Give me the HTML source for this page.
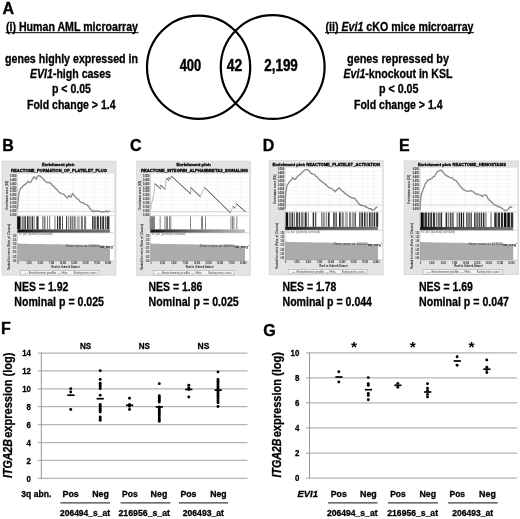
<!DOCTYPE html>
<html><head><meta charset="utf-8"><title>Figure</title>
<style>html,body{margin:0;padding:0;background:#fff;}svg{display:block;}text{font-family:"Liberation Sans", sans-serif;}</style></head><body>
<svg width="520" height="519" viewBox="0 0 520 519">
<rect width="520" height="519" fill="#fff"/>
<defs><filter id="idf" x="0" y="0" width="520" height="519" filterUnits="userSpaceOnUse"><feGaussianBlur stdDeviation="0.32"/></filter></defs>
<g filter="url(#idf)">
<text x="2.6" y="13.5" font-size="16" font-weight="bold" stroke="#000" stroke-width="0.35">A</text>
<text x="2.2" y="151" font-size="16" font-weight="bold" stroke="#000" stroke-width="0.35">B</text>
<text x="130" y="151" font-size="16" font-weight="bold" stroke="#000" stroke-width="0.35">C</text>
<text x="262.8" y="151" font-size="16" font-weight="bold" stroke="#000" stroke-width="0.35">D</text>
<text x="399.0" y="151" font-size="16" font-weight="bold" stroke="#000" stroke-width="0.35">E</text>
<text x="1.1" y="334.1" font-size="16" font-weight="bold" stroke="#000" stroke-width="0.35">F</text>
<text x="263.3" y="336.4" font-size="16" font-weight="bold" stroke="#000" stroke-width="0.35">G</text>
<text x="6.00" y="30.50" font-size="12" font-weight="bold" font-style="normal" fill="#000" stroke="#000" stroke-width="0.3" textLength="132.00" lengthAdjust="spacingAndGlyphs">(i) Human AML microarray</text>
<line x1="5.5" x2="138.5" y1="32.7" y2="32.7" stroke="#000" stroke-width="1"/>
<text x="5.00" y="62.60" font-size="12" font-weight="bold" font-style="normal" fill="#000" stroke="#000" stroke-width="0.3" textLength="133.00" lengthAdjust="spacingAndGlyphs">genes highly expressed in</text>
<text x="30.00" y="78.00" font-size="12" font-weight="bold" font-style="normal" fill="#000" stroke="#000" stroke-width="0.3" textLength="81.00" lengthAdjust="spacingAndGlyphs"><tspan font-style="italic">EVI1</tspan>-high cases</text>
<text x="52.00" y="93.30" font-size="12" font-weight="bold" font-style="normal" fill="#000" stroke="#000" stroke-width="0.3" textLength="39.00" lengthAdjust="spacingAndGlyphs">p &lt; 0.05</text>
<text x="27.00" y="108.80" font-size="12" font-weight="bold" font-style="normal" fill="#000" stroke="#000" stroke-width="0.3" textLength="88.50" lengthAdjust="spacingAndGlyphs">Fold change &gt; 1.4</text>
<circle cx="198.6" cy="67.2" r="51.6" fill="none" stroke="#000" stroke-width="2.2"/>
<circle cx="272.7" cy="67" r="51.9" fill="none" stroke="#000" stroke-width="2.2"/>
<text x="179.70" y="71.20" font-size="16" font-weight="bold" font-style="normal" fill="#000" stroke="#000" stroke-width="0.45" textLength="21.50" lengthAdjust="spacingAndGlyphs">400</text>
<text x="226.80" y="71.20" font-size="16" font-weight="bold" font-style="normal" fill="#000" stroke="#000" stroke-width="0.45" textLength="15.40" lengthAdjust="spacingAndGlyphs">42</text>
<text x="264.30" y="71.20" font-size="16" font-weight="bold" font-style="normal" fill="#000" stroke="#000" stroke-width="0.45" textLength="33.50" lengthAdjust="spacingAndGlyphs">2,199</text>
<text x="325.50" y="30.50" font-size="12" font-weight="bold" font-style="normal" fill="#000" stroke="#000" stroke-width="0.3" textLength="148.00" lengthAdjust="spacingAndGlyphs">(ii) <tspan font-style="italic">Evi1</tspan> cKO mice microarray</text>
<line x1="325" x2="474" y1="32.7" y2="32.7" stroke="#000" stroke-width="1"/>
<text x="347.00" y="62.60" font-size="12" font-weight="bold" font-style="normal" fill="#000" stroke="#000" stroke-width="0.3" textLength="102.00" lengthAdjust="spacingAndGlyphs">genes repressed by</text>
<text x="343.50" y="78.00" font-size="12" font-weight="bold" font-style="normal" fill="#000" stroke="#000" stroke-width="0.3" textLength="109.00" lengthAdjust="spacingAndGlyphs"><tspan font-style="italic">Evi1</tspan>-knockout in KSL</text>
<text x="379.00" y="93.30" font-size="12" font-weight="bold" font-style="normal" fill="#000" stroke="#000" stroke-width="0.3" textLength="39.50" lengthAdjust="spacingAndGlyphs">p &lt; 0.05</text>
<text x="354.00" y="108.80" font-size="12" font-weight="bold" font-style="normal" fill="#000" stroke="#000" stroke-width="0.3" textLength="88.50" lengthAdjust="spacingAndGlyphs">Fold change &gt; 1.4</text>
<defs><linearGradient id="gb" x1="0" x2="1" y1="0" y2="0"><stop offset="0" stop-color="#111"/><stop offset="0.35" stop-color="#4a4a4a"/><stop offset="1" stop-color="#757575"/></linearGradient><linearGradient id="gc" x1="0" x2="1" y1="0" y2="0"><stop offset="0" stop-color="#111"/><stop offset="0.4" stop-color="#666"/><stop offset="1" stop-color="#bdbdbd"/></linearGradient><filter id="bl" x="-5%" y="-5%" width="110%" height="110%"><feGaussianBlur stdDeviation="0.4"/></filter></defs>
<g filter="url(#bl)">
<rect x="2.00" y="161.10" width="114.00" height="114.00" fill="#e3e3e3" stroke="#cdcdcd" stroke-width="0.6"/>
<rect x="17.3" y="173.80" width="96.60" height="87.20" fill="#fff"/>
<path d="M17.3 177.64H113.9 M17.3 181.48H113.9 M17.3 185.32H113.9 M17.3 189.16H113.9 M17.3 193.00H113.9 M17.3 196.84H113.9 M17.3 200.68H113.9 M17.3 204.52H113.9 M17.3 208.36H113.9 M17.3 212.20H113.9 M28.32 173.80V215.10 M39.35 173.80V215.10 M50.37 173.80V215.10 M61.40 173.80V215.10 M72.42 173.80V215.10 M83.44 173.80V215.10 M94.47 173.80V215.10 M105.49 173.80V215.10" stroke="#ececec" stroke-width="0.4" fill="none"/>
<path d="M17.3 215.70H113.9" stroke="#cfcfcf" stroke-width="0.8"/>
<path d="M17.3 211.40H113.9" stroke="#b5b5b5" stroke-width="0.5"/>
<text x="42" y="166.40" font-size="4.4" font-weight="bold" stroke="#000" stroke-width="0.3" textLength="32.50" lengthAdjust="spacingAndGlyphs">Enrichment plot:</text>
<text x="11" y="172.40" font-size="4.4" font-weight="bold" stroke="#000" stroke-width="0.3" textLength="96.00" lengthAdjust="spacingAndGlyphs">REACTOME_FORMATION_OF_PLATELET_PLUG</text>
<path d="M17.40 209.50 L17.48 208.60 L17.56 207.70 L17.64 206.80 L17.72 205.90 L17.80 205.00 L17.87 204.00 L17.94 203.00 L18.01 202.00 L18.09 201.00 L18.16 200.00 L18.23 199.00 L18.30 198.00 L18.45 197.00 L18.60 196.00 L18.75 195.00 L18.90 194.00 L19.05 193.00 L19.20 192.00 L19.53 191.00 L19.87 190.00 L20.20 189.00 L20.80 187.92 L21.40 187.81 L22.20 186.99 L23.00 185.78 L23.95 185.20 L24.90 184.35 L26.30 183.64 L27.00 182.86 L27.70 181.33 L29.00 182.18 L30.60 182.50 L31.17 181.24 L31.73 180.64 L32.30 179.05 L32.90 178.65 L33.50 178.10 L34.10 176.86 L35.30 178.00 L36.40 178.96 L37.00 177.18 L37.60 176.17 L38.70 175.34 L39.60 176.00 L40.50 176.19 L41.35 177.04 L42.20 178.23 L43.05 178.73 L43.90 179.75 L44.75 180.64 L45.60 181.40 L46.50 181.91 L47.40 182.66 L48.50 182.95 L49.70 182.46 L50.47 183.08 L51.23 183.60 L52.00 185.10 L52.77 185.55 L53.53 186.33 L54.30 186.62 L54.97 188.07 L55.65 188.67 L56.33 188.73 L57.00 189.65 L57.75 190.72 L58.50 191.44 L59.25 192.37 L60.00 192.63 L61.15 193.55 L62.30 193.95 L63.45 194.22 L64.60 195.08 L65.30 196.04 L66.00 196.71 L66.75 197.15 L67.50 197.98 L68.40 196.18 L69.20 195.37 L70.10 196.77 L71.00 197.22 L71.40 195.86 L71.80 195.04 L72.15 194.33 L72.50 193.46 L73.10 193.99 L73.70 194.85 L74.30 195.71 L74.93 196.68 L75.57 197.19 L76.20 197.80 L77.07 198.66 L77.93 199.01 L78.80 199.79 L79.67 201.15 L80.53 202.17 L81.40 202.58 L82.37 202.77 L83.33 202.94 L84.30 203.60 L85.27 204.43 L86.23 204.64 L87.20 204.84 L87.85 205.92 L88.50 206.16 L89.15 207.21 L89.80 208.41 L90.45 208.92 L91.10 209.66 L91.75 210.34 L92.40 211.44 L93.37 211.71 L94.33 210.76 L95.30 211.36 L96.27 211.22 L97.23 211.11 L98.20 210.82 L99.10 211.18 L100.00 211.22 L100.80 211.71 L101.60 212.03 L102.80 211.60 L104.00 212.23 L105.10 211.61 L106.20 210.93 L107.50 211.90 L108.60 211.59 L109.70 210.47" fill="none" stroke="#8a8a8a" stroke-width="1.35" stroke-linejoin="round"/>
<rect x="16.98" y="216.30" width="3.60" height="13.10" fill="#0a0a0a"/>
<rect x="21.64" y="216.30" width="2.12" height="13.10" fill="#7c7c7c"/>
<rect x="24.39" y="216.30" width="1.48" height="13.10" fill="#333333"/>
<rect x="26.92" y="216.30" width="1.69" height="13.10" fill="#333333"/>
<rect x="29.46" y="216.30" width="1.06" height="13.10" fill="#333333"/>
<rect x="31.58" y="216.30" width="1.69" height="13.10" fill="#333333"/>
<rect x="34.33" y="216.30" width="0.63" height="13.10" fill="#7c7c7c"/>
<rect x="36.44" y="216.30" width="2.12" height="13.10" fill="#333333"/>
<rect x="42.16" y="216.30" width="1.27" height="13.10" fill="#7c7c7c"/>
<rect x="43.85" y="216.30" width="1.69" height="13.10" fill="#7c7c7c"/>
<rect x="47.02" y="216.30" width="1.06" height="13.10" fill="#7c7c7c"/>
<rect x="49.14" y="216.30" width="1.06" height="13.10" fill="#7c7c7c"/>
<rect x="54.43" y="216.30" width="1.06" height="13.10" fill="#7c7c7c"/>
<rect x="56.96" y="216.30" width="1.27" height="13.10" fill="#333333"/>
<rect x="59.08" y="216.30" width="1.69" height="13.10" fill="#333333"/>
<rect x="62.04" y="216.30" width="0.85" height="13.10" fill="#333333"/>
<rect x="66.06" y="216.30" width="1.06" height="13.10" fill="#333333"/>
<rect x="68.18" y="216.30" width="1.06" height="13.10" fill="#7c7c7c"/>
<rect x="70.29" y="216.30" width="1.06" height="13.10" fill="#333333"/>
<rect x="71.98" y="216.30" width="0.63" height="13.10" fill="#333333"/>
<rect x="73.47" y="216.30" width="2.12" height="13.10" fill="#7c7c7c"/>
<rect x="76.64" y="216.30" width="3.17" height="13.10" fill="#b2b2b2"/>
<rect x="80.87" y="216.30" width="2.12" height="13.10" fill="#7c7c7c"/>
<rect x="84.04" y="216.30" width="2.12" height="13.10" fill="#7c7c7c"/>
<rect x="92.08" y="216.30" width="1.48" height="13.10" fill="#333333"/>
<rect x="94.20" y="216.30" width="1.48" height="13.10" fill="#333333"/>
<rect x="96.74" y="216.30" width="2.12" height="13.10" fill="#333333"/>
<rect x="99.91" y="216.30" width="1.48" height="13.10" fill="#333333"/>
<rect x="102.24" y="216.30" width="1.90" height="13.10" fill="#333333"/>
<rect x="105.20" y="216.30" width="1.06" height="13.10" fill="#333333"/>
<rect x="106.89" y="216.30" width="2.54" height="13.10" fill="#333333"/>
<rect x="17.3" y="229.40" width="92.60" height="3.40" fill="url(#gb)"/>
<path d="M17.3 232.80H113.9" stroke="#aaa" stroke-width="0.5"/>
<text x="18.3" y="235.40" font-size="2.6" fill="#555" textLength="34" lengthAdjust="spacingAndGlyphs">'na_pos' (positively correlated)</text>
<path d="M17.3 261.00V243.20C19.3 243.70 25.3 243.90 63.60 244.40L96.01 245.10L109.90 246.00V261.00Z" fill="#ababab"/>
<text x="65.45" y="246.60" font-size="2.6" fill="#333" textLength="33.34" lengthAdjust="spacingAndGlyphs">Zero cross at 16920</text>
<text x="98.79" y="247.60" font-size="2.6" fill="#222" font-weight="bold" textLength="14.82" lengthAdjust="spacingAndGlyphs">'na_neg'</text>
<path d="M17.3 173.80V261.00H113.9" stroke="#9a9a9a" stroke-width="0.4" fill="none"/>
<text x="10.10" y="177.10" font-size="2.9" fill="#111" font-weight="bold" textLength="6.2" lengthAdjust="spacingAndGlyphs">0.500</text>
<text x="10.10" y="180.94" font-size="2.9" fill="#111" font-weight="bold" textLength="6.2" lengthAdjust="spacingAndGlyphs">0.450</text>
<text x="10.10" y="184.78" font-size="2.9" fill="#111" font-weight="bold" textLength="6.2" lengthAdjust="spacingAndGlyphs">0.400</text>
<text x="10.10" y="188.62" font-size="2.9" fill="#111" font-weight="bold" textLength="6.2" lengthAdjust="spacingAndGlyphs">0.350</text>
<text x="10.10" y="192.46" font-size="2.9" fill="#111" font-weight="bold" textLength="6.2" lengthAdjust="spacingAndGlyphs">0.300</text>
<text x="10.10" y="196.30" font-size="2.9" fill="#111" font-weight="bold" textLength="6.2" lengthAdjust="spacingAndGlyphs">0.250</text>
<text x="10.10" y="200.14" font-size="2.9" fill="#111" font-weight="bold" textLength="6.2" lengthAdjust="spacingAndGlyphs">0.200</text>
<text x="10.10" y="203.98" font-size="2.9" fill="#111" font-weight="bold" textLength="6.2" lengthAdjust="spacingAndGlyphs">0.150</text>
<text x="10.10" y="207.82" font-size="2.9" fill="#111" font-weight="bold" textLength="6.2" lengthAdjust="spacingAndGlyphs">0.100</text>
<text x="10.10" y="211.66" font-size="2.9" fill="#111" font-weight="bold" textLength="6.2" lengthAdjust="spacingAndGlyphs">0.050</text>
<text x="10.10" y="215.50" font-size="2.9" fill="#111" font-weight="bold" textLength="6.2" lengthAdjust="spacingAndGlyphs">0.000</text>
<text x="12.70" y="236.50" font-size="2.9" fill="#1a1a1a" font-weight="bold" textLength="3.6" lengthAdjust="spacingAndGlyphs">1.50</text>
<text x="12.70" y="240.72" font-size="2.9" fill="#1a1a1a" font-weight="bold" textLength="3.6" lengthAdjust="spacingAndGlyphs">1.25</text>
<text x="12.70" y="244.94" font-size="2.9" fill="#1a1a1a" font-weight="bold" textLength="3.6" lengthAdjust="spacingAndGlyphs">1.00</text>
<text x="12.70" y="249.16" font-size="2.9" fill="#1a1a1a" font-weight="bold" textLength="3.6" lengthAdjust="spacingAndGlyphs">0.75</text>
<text x="12.70" y="253.38" font-size="2.9" fill="#1a1a1a" font-weight="bold" textLength="3.6" lengthAdjust="spacingAndGlyphs">0.50</text>
<text x="12.70" y="257.60" font-size="2.9" fill="#1a1a1a" font-weight="bold" textLength="3.6" lengthAdjust="spacingAndGlyphs">0.25</text>
<text x="12.70" y="261.82" font-size="2.9" fill="#1a1a1a" font-weight="bold" textLength="3.6" lengthAdjust="spacingAndGlyphs">0.00</text>
<text transform="translate(7.70,209.80) rotate(-90)" font-size="2.9" fill="#1a1a1a" font-weight="bold" textLength="29" lengthAdjust="spacingAndGlyphs">Enrichment score (ES)</text>
<text transform="translate(10.30,270.00) rotate(-90)" font-size="2.9" fill="#1a1a1a" font-weight="bold" textLength="46" lengthAdjust="spacingAndGlyphs">Ranked list metric (Ratio_of_Classes)</text>
<text x="17.20" y="264.40" font-size="2.9" fill="#1a1a1a" font-weight="bold" textLength="1.2" lengthAdjust="spacingAndGlyphs">0</text>
<text x="26.49" y="264.40" font-size="2.9" fill="#1a1a1a" font-weight="bold" textLength="5.2" lengthAdjust="spacingAndGlyphs">2,500</text>
<text x="37.79" y="264.40" font-size="2.9" fill="#1a1a1a" font-weight="bold" textLength="5.2" lengthAdjust="spacingAndGlyphs">5,000</text>
<text x="49.08" y="264.40" font-size="2.9" fill="#1a1a1a" font-weight="bold" textLength="5.2" lengthAdjust="spacingAndGlyphs">7,500</text>
<text x="59.87" y="264.40" font-size="2.9" fill="#1a1a1a" font-weight="bold" textLength="6.2" lengthAdjust="spacingAndGlyphs">10,000</text>
<text x="71.16" y="264.40" font-size="2.9" fill="#1a1a1a" font-weight="bold" textLength="6.2" lengthAdjust="spacingAndGlyphs">12,500</text>
<text x="82.46" y="264.40" font-size="2.9" fill="#1a1a1a" font-weight="bold" textLength="6.2" lengthAdjust="spacingAndGlyphs">15,000</text>
<text x="93.75" y="264.40" font-size="2.9" fill="#1a1a1a" font-weight="bold" textLength="6.2" lengthAdjust="spacingAndGlyphs">17,500</text>
<text x="105.04" y="264.40" font-size="2.9" fill="#1a1a1a" font-weight="bold" textLength="6.2" lengthAdjust="spacingAndGlyphs">20,000</text>
<text x="51.60" y="268.00" font-size="2.9" fill="#1a1a1a" font-weight="bold" textLength="28" lengthAdjust="spacingAndGlyphs">Rank in Ordered Dataset</text>
<rect x="20.30" y="270.60" width="78.60" height="4.4" fill="#f4f4f4" stroke="#8c8c8c" stroke-width="0.4"/>
<text x="24.30" y="273.70" font-size="2.6" fill="#444" textLength="43.23" lengthAdjust="spacingAndGlyphs">— Enrichment profile — Hits</text>
<text x="73.75" y="273.70" font-size="2.6" fill="#444" textLength="22.79" lengthAdjust="spacingAndGlyphs">Ranking metric scores</text>
</g>
<g filter="url(#bl)">
<rect x="136.70" y="161.10" width="113.70" height="114.40" fill="#e3e3e3" stroke="#cdcdcd" stroke-width="0.6"/>
<rect x="150.3" y="173.80" width="98.70" height="87.20" fill="#fff"/>
<path d="M150.3 177.64H249.0 M150.3 181.48H249.0 M150.3 185.32H249.0 M150.3 189.16H249.0 M150.3 193.00H249.0 M150.3 196.84H249.0 M150.3 200.68H249.0 M150.3 204.52H249.0 M150.3 208.36H249.0 M150.3 212.20H249.0 M161.57 173.80V215.10 M172.85 173.80V215.10 M184.12 173.80V215.10 M195.40 173.80V215.10 M206.67 173.80V215.10 M217.94 173.80V215.10 M229.22 173.80V215.10 M240.49 173.80V215.10" stroke="#ececec" stroke-width="0.4" fill="none"/>
<path d="M150.3 215.70H249.0" stroke="#cfcfcf" stroke-width="0.8"/>
<path d="M150.3 211.60H249.0" stroke="#b5b5b5" stroke-width="0.5"/>
<text x="176.4" y="166.40" font-size="4.4" font-weight="bold" stroke="#000" stroke-width="0.3" textLength="34.60" lengthAdjust="spacingAndGlyphs">Enrichment plot:</text>
<text x="141" y="172.40" font-size="4.4" font-weight="bold" stroke="#000" stroke-width="0.3" textLength="107.00" lengthAdjust="spacingAndGlyphs">REACTOME_INTEGRIN_ALPHAIIBBETA3_SIGNALING</text>
<path d="M150.60 209.50 L150.90 207.50 L151.30 204.40 L152.20 201.00 L153.10 198.10 L153.80 194.00 L154.40 190.00 L155.00 183.80 L160.60 188.80 L160.70 185.00 L165.00 189.40 L165.60 184.00 L166.50 178.20 L168.50 180.50 L168.70 177.20 L170.50 179.20 L171.20 176.00 L190.60 193.80 L190.70 187.50 L200.20 196.60 L204.70 187.60 L230.30 212.70 L233.30 206.40 L234.80 208.10 L236.50 203.90 L245.30 211.60" fill="none" stroke="#9a9a9a" stroke-width="0.7" stroke-linejoin="round"/>
<path d="M155.00 183.80L160.60 188.80 M160.70 185.00L165.00 189.40 M166.50 178.20L168.50 180.50 M168.70 177.20L170.50 179.20 M171.20 176.00L190.60 193.80 M190.70 187.50L200.20 196.60 M204.70 187.60L230.30 212.70 M233.30 206.40L234.80 208.10 M236.50 203.90L245.30 211.60" fill="none" stroke="#484848" stroke-width="0.9" stroke-linecap="round"/>
<rect x="149.85" y="216.30" width="0.60" height="13.10" fill="#333"/>
<rect x="150.70" y="216.30" width="0.60" height="13.10" fill="#333"/>
<rect x="151.55" y="216.30" width="0.60" height="13.10" fill="#333"/>
<rect x="152.39" y="216.30" width="0.60" height="13.10" fill="#333"/>
<rect x="153.24" y="216.30" width="0.60" height="13.10" fill="#333"/>
<rect x="154.09" y="216.30" width="0.60" height="13.10" fill="#333"/>
<rect x="159.80" y="216.30" width="0.60" height="13.10" fill="#333"/>
<rect x="164.66" y="216.30" width="0.60" height="13.10" fill="#333"/>
<rect x="165.93" y="216.30" width="0.60" height="13.10" fill="#333"/>
<rect x="167.20" y="216.30" width="0.60" height="13.10" fill="#333"/>
<rect x="169.32" y="216.30" width="0.60" height="13.10" fill="#333"/>
<rect x="170.59" y="216.30" width="0.60" height="13.10" fill="#333"/>
<rect x="190.05" y="216.30" width="0.60" height="13.10" fill="#333"/>
<rect x="201.05" y="216.30" width="0.60" height="13.10" fill="#333"/>
<rect x="202.32" y="216.30" width="0.60" height="13.10" fill="#333"/>
<rect x="205.28" y="216.30" width="0.60" height="13.10" fill="#333"/>
<rect x="230.67" y="216.30" width="0.60" height="13.10" fill="#333"/>
<rect x="232.36" y="216.30" width="0.60" height="13.10" fill="#333"/>
<rect x="233.63" y="216.30" width="0.60" height="13.10" fill="#333"/>
<rect x="236.59" y="216.30" width="0.60" height="13.10" fill="#333"/>
<rect x="150.3" y="229.40" width="94.70" height="3.40" fill="url(#gc)"/>
<path d="M150.3 232.80H249.0" stroke="#aaa" stroke-width="0.5"/>
<text x="151.3" y="235.40" font-size="2.6" fill="#555" textLength="34" lengthAdjust="spacingAndGlyphs">'na_pos' (positively correlated)</text>
<path d="M150.3 261.00V243.20C152.3 243.70 158.3 243.90 197.65 244.40L230.80 245.10L245.00 246.00V261.00Z" fill="#ababab"/>
<text x="199.54" y="246.60" font-size="2.6" fill="#333" textLength="34.09" lengthAdjust="spacingAndGlyphs">Zero cross at 16920</text>
<text x="233.64" y="247.60" font-size="2.6" fill="#222" font-weight="bold" textLength="15.15" lengthAdjust="spacingAndGlyphs">'na_neg'</text>
<path d="M150.3 173.80V261.00H249.0" stroke="#9a9a9a" stroke-width="0.4" fill="none"/>
<text x="143.10" y="177.10" font-size="2.9" fill="#111" font-weight="bold" textLength="6.2" lengthAdjust="spacingAndGlyphs">0.500</text>
<text x="143.10" y="180.94" font-size="2.9" fill="#111" font-weight="bold" textLength="6.2" lengthAdjust="spacingAndGlyphs">0.450</text>
<text x="143.10" y="184.78" font-size="2.9" fill="#111" font-weight="bold" textLength="6.2" lengthAdjust="spacingAndGlyphs">0.400</text>
<text x="143.10" y="188.62" font-size="2.9" fill="#111" font-weight="bold" textLength="6.2" lengthAdjust="spacingAndGlyphs">0.350</text>
<text x="143.10" y="192.46" font-size="2.9" fill="#111" font-weight="bold" textLength="6.2" lengthAdjust="spacingAndGlyphs">0.300</text>
<text x="143.10" y="196.30" font-size="2.9" fill="#111" font-weight="bold" textLength="6.2" lengthAdjust="spacingAndGlyphs">0.250</text>
<text x="143.10" y="200.14" font-size="2.9" fill="#111" font-weight="bold" textLength="6.2" lengthAdjust="spacingAndGlyphs">0.200</text>
<text x="143.10" y="203.98" font-size="2.9" fill="#111" font-weight="bold" textLength="6.2" lengthAdjust="spacingAndGlyphs">0.150</text>
<text x="143.10" y="207.82" font-size="2.9" fill="#111" font-weight="bold" textLength="6.2" lengthAdjust="spacingAndGlyphs">0.100</text>
<text x="143.10" y="211.66" font-size="2.9" fill="#111" font-weight="bold" textLength="6.2" lengthAdjust="spacingAndGlyphs">0.050</text>
<text x="143.10" y="215.50" font-size="2.9" fill="#111" font-weight="bold" textLength="6.2" lengthAdjust="spacingAndGlyphs">0.000</text>
<text x="145.70" y="236.50" font-size="2.9" fill="#1a1a1a" font-weight="bold" textLength="3.6" lengthAdjust="spacingAndGlyphs">1.50</text>
<text x="145.70" y="240.72" font-size="2.9" fill="#1a1a1a" font-weight="bold" textLength="3.6" lengthAdjust="spacingAndGlyphs">1.25</text>
<text x="145.70" y="244.94" font-size="2.9" fill="#1a1a1a" font-weight="bold" textLength="3.6" lengthAdjust="spacingAndGlyphs">1.00</text>
<text x="145.70" y="249.16" font-size="2.9" fill="#1a1a1a" font-weight="bold" textLength="3.6" lengthAdjust="spacingAndGlyphs">0.75</text>
<text x="145.70" y="253.38" font-size="2.9" fill="#1a1a1a" font-weight="bold" textLength="3.6" lengthAdjust="spacingAndGlyphs">0.50</text>
<text x="145.70" y="257.60" font-size="2.9" fill="#1a1a1a" font-weight="bold" textLength="3.6" lengthAdjust="spacingAndGlyphs">0.25</text>
<text x="145.70" y="261.82" font-size="2.9" fill="#1a1a1a" font-weight="bold" textLength="3.6" lengthAdjust="spacingAndGlyphs">0.00</text>
<text transform="translate(140.70,209.80) rotate(-90)" font-size="2.9" fill="#1a1a1a" font-weight="bold" textLength="29" lengthAdjust="spacingAndGlyphs">Enrichment score (ES)</text>
<text transform="translate(143.30,270.00) rotate(-90)" font-size="2.9" fill="#1a1a1a" font-weight="bold" textLength="46" lengthAdjust="spacingAndGlyphs">Ranked list metric (Ratio_of_Classes)</text>
<text x="150.20" y="264.40" font-size="2.9" fill="#1a1a1a" font-weight="bold" textLength="1.2" lengthAdjust="spacingAndGlyphs">0</text>
<text x="159.75" y="264.40" font-size="2.9" fill="#1a1a1a" font-weight="bold" textLength="5.2" lengthAdjust="spacingAndGlyphs">2,500</text>
<text x="171.30" y="264.40" font-size="2.9" fill="#1a1a1a" font-weight="bold" textLength="5.2" lengthAdjust="spacingAndGlyphs">5,000</text>
<text x="182.85" y="264.40" font-size="2.9" fill="#1a1a1a" font-weight="bold" textLength="5.2" lengthAdjust="spacingAndGlyphs">7,500</text>
<text x="193.90" y="264.40" font-size="2.9" fill="#1a1a1a" font-weight="bold" textLength="6.2" lengthAdjust="spacingAndGlyphs">10,000</text>
<text x="205.44" y="264.40" font-size="2.9" fill="#1a1a1a" font-weight="bold" textLength="6.2" lengthAdjust="spacingAndGlyphs">12,500</text>
<text x="216.99" y="264.40" font-size="2.9" fill="#1a1a1a" font-weight="bold" textLength="6.2" lengthAdjust="spacingAndGlyphs">15,000</text>
<text x="228.54" y="264.40" font-size="2.9" fill="#1a1a1a" font-weight="bold" textLength="6.2" lengthAdjust="spacingAndGlyphs">17,500</text>
<text x="240.09" y="264.40" font-size="2.9" fill="#1a1a1a" font-weight="bold" textLength="6.2" lengthAdjust="spacingAndGlyphs">20,000</text>
<text x="185.65" y="268.00" font-size="2.9" fill="#1a1a1a" font-weight="bold" textLength="28" lengthAdjust="spacingAndGlyphs">Rank in Ordered Dataset</text>
<rect x="153.30" y="270.60" width="80.70" height="4.4" fill="#f4f4f4" stroke="#8c8c8c" stroke-width="0.4"/>
<text x="157.30" y="273.70" font-size="2.6" fill="#444" textLength="44.38" lengthAdjust="spacingAndGlyphs">— Enrichment profile — Hits</text>
<text x="208.18" y="273.70" font-size="2.6" fill="#444" textLength="23.40" lengthAdjust="spacingAndGlyphs">Ranking metric scores</text>
</g>
<g filter="url(#bl)">
<rect x="269.20" y="160.70" width="114.00" height="114.20" fill="#e3e3e3" stroke="#cdcdcd" stroke-width="0.6"/>
<rect x="285.1" y="167.70" width="96.90" height="92.20" fill="#fff"/>
<path d="M285.1 171.54H382.0 M285.1 175.38H382.0 M285.1 179.22H382.0 M285.1 183.06H382.0 M285.1 186.90H382.0 M285.1 190.74H382.0 M285.1 194.58H382.0 M285.1 198.42H382.0 M285.1 202.26H382.0 M285.1 206.10H382.0 M296.16 167.70V211.10 M307.22 167.70V211.10 M318.28 167.70V211.10 M329.34 167.70V211.10 M340.40 167.70V211.10 M351.46 167.70V211.10 M362.52 167.70V211.10 M373.58 167.70V211.10" stroke="#ececec" stroke-width="0.4" fill="none"/>
<path d="M285.1 211.70H382.0" stroke="#cfcfcf" stroke-width="0.8"/>
<path d="M285.1 204.90H382.0" stroke="#b5b5b5" stroke-width="0.5"/>
<text x="272.5" y="165.60" font-size="4.4" font-weight="bold" stroke="#000" stroke-width="0.3" textLength="107.50" lengthAdjust="spacingAndGlyphs">Enrichment plot: REACTOME_PLATELET_ACTIVATION</text>
<path d="M285.08 208.90 L285.11 207.96 L285.14 207.02 L285.17 206.08 L285.20 205.14 L285.23 204.20 L285.26 203.26 L285.29 202.32 L285.33 201.38 L285.37 200.33 L285.41 199.29 L285.45 198.25 L285.49 197.20 L285.53 196.16 L285.58 195.11 L285.70 194.19 L285.83 193.27 L285.95 192.36 L286.08 191.44 L286.20 190.52 L286.33 189.60 L286.48 188.70 L286.63 187.79 L286.78 186.89 L286.93 185.99 L287.08 185.09 L287.58 184.34 L288.08 183.99 L288.58 183.24 L289.34 181.68 L290.09 180.95 L290.71 180.75 L291.34 179.79 L291.97 178.72 L292.59 177.40 L293.85 178.92 L295.10 179.67 L295.77 178.81 L296.44 177.60 L297.11 177.01 L297.98 175.97 L298.86 175.26 L299.86 174.63 L300.86 173.71 L301.74 172.72 L302.62 172.01 L303.62 171.09 L304.62 170.13 L305.50 169.62 L306.38 169.52 L307.63 169.64 L308.88 170.44 L309.51 171.78 L310.14 172.33 L310.76 173.11 L311.39 173.57 L312.27 173.63 L313.15 174.15 L314.15 174.36 L315.15 175.07 L315.99 176.35 L316.82 176.89 L317.66 177.28 L318.49 178.76 L319.33 179.51 L320.16 180.29 L321.00 181.11 L321.83 181.65 L322.67 182.34 L323.50 182.53 L324.34 183.68 L325.18 184.25 L325.84 184.20 L326.51 185.40 L327.18 186.03 L328.06 186.68 L328.93 187.62 L330.19 188.09 L331.44 188.48 L332.32 188.97 L333.20 190.15 L334.20 190.47 L335.20 191.70 L335.87 191.04 L336.54 189.98 L337.21 189.41 L338.08 188.85 L338.96 187.80 L339.84 188.58 L340.71 189.35 L341.72 190.32 L342.72 191.53 L343.55 191.72 L344.39 193.06 L345.23 193.15 L346.06 194.31 L346.90 194.36 L347.73 195.52 L348.73 196.05 L349.74 196.62 L350.61 197.13 L351.49 197.76 L352.37 197.95 L353.25 197.95 L354.25 198.23 L355.25 198.88 L355.88 200.08 L356.50 200.61 L357.13 200.93 L357.76 202.42 L358.38 203.09 L359.01 204.00 L359.64 204.11 L360.26 205.36 L361.52 204.99 L362.77 205.78 L364.02 205.81 L365.28 206.14 L366.11 207.23 L366.95 207.04 L367.78 207.91 L369.04 208.71 L370.29 208.67 L371.29 209.01 L372.29 209.99 L374.05 209.58 L374.92 209.09 L375.80 207.72 L376.55 207.52 L377.31 206.85" fill="none" stroke="#8a8a8a" stroke-width="1.35" stroke-linejoin="round"/>
<rect x="285.58" y="212.40" width="2.54" height="14.40" fill="#0a0a0a"/>
<rect x="288.75" y="212.40" width="2.12" height="14.40" fill="#7c7c7c"/>
<rect x="291.50" y="212.40" width="1.48" height="14.40" fill="#333333"/>
<rect x="293.62" y="212.40" width="1.48" height="14.40" fill="#7c7c7c"/>
<rect x="296.16" y="212.40" width="1.69" height="14.40" fill="#333333"/>
<rect x="298.69" y="212.40" width="1.27" height="14.40" fill="#333333"/>
<rect x="300.81" y="212.40" width="2.75" height="14.40" fill="#7c7c7c"/>
<rect x="304.62" y="212.40" width="2.12" height="14.40" fill="#333333"/>
<rect x="307.79" y="212.40" width="1.06" height="14.40" fill="#7c7c7c"/>
<rect x="312.66" y="212.40" width="1.48" height="14.40" fill="#333333"/>
<rect x="315.19" y="212.40" width="1.06" height="14.40" fill="#333333"/>
<rect x="321.12" y="212.40" width="1.48" height="14.40" fill="#7c7c7c"/>
<rect x="323.23" y="212.40" width="1.48" height="14.40" fill="#7c7c7c"/>
<rect x="325.77" y="212.40" width="1.06" height="14.40" fill="#7c7c7c"/>
<rect x="327.89" y="212.40" width="1.69" height="14.40" fill="#333333"/>
<rect x="333.18" y="212.40" width="1.48" height="14.40" fill="#333333"/>
<rect x="335.50" y="212.40" width="1.27" height="14.40" fill="#333333"/>
<rect x="339.10" y="212.40" width="1.48" height="14.40" fill="#0a0a0a"/>
<rect x="341.64" y="212.40" width="2.12" height="14.40" fill="#7c7c7c"/>
<rect x="344.81" y="212.40" width="3.17" height="14.40" fill="#b2b2b2"/>
<rect x="349.04" y="212.40" width="2.12" height="14.40" fill="#7c7c7c"/>
<rect x="352.22" y="212.40" width="1.48" height="14.40" fill="#7c7c7c"/>
<rect x="354.54" y="212.40" width="1.27" height="14.40" fill="#333333"/>
<rect x="359.20" y="212.40" width="1.27" height="14.40" fill="#333333"/>
<rect x="361.31" y="212.40" width="1.69" height="14.40" fill="#333333"/>
<rect x="363.85" y="212.40" width="1.69" height="14.40" fill="#333333"/>
<rect x="366.39" y="212.40" width="1.69" height="14.40" fill="#7c7c7c"/>
<rect x="368.93" y="212.40" width="1.69" height="14.40" fill="#333333"/>
<rect x="371.47" y="212.40" width="1.27" height="14.40" fill="#333333"/>
<rect x="373.58" y="212.40" width="1.69" height="14.40" fill="#333333"/>
<rect x="376.12" y="212.40" width="2.12" height="14.40" fill="#333333"/>
<rect x="285.1" y="226.80" width="92.90" height="3.30" fill="url(#gb)"/>
<path d="M285.1 230.10H382.0" stroke="#aaa" stroke-width="0.5"/>
<text x="286.1" y="232.70" font-size="2.6" fill="#555" textLength="34" lengthAdjust="spacingAndGlyphs">'na_pos' (positively correlated)</text>
<path d="M285.1 259.90V241.50C287.1 242.00 293.1 242.20 331.55 242.70L364.06 243.40L378.00 244.30V259.90Z" fill="#ababab"/>
<text x="333.41" y="244.90" font-size="2.6" fill="#333" textLength="33.44" lengthAdjust="spacingAndGlyphs">Zero cross at 16920</text>
<text x="366.85" y="245.90" font-size="2.6" fill="#222" font-weight="bold" textLength="14.86" lengthAdjust="spacingAndGlyphs">'na_neg'</text>
<path d="M285.1 167.70V259.90H382.0" stroke="#9a9a9a" stroke-width="0.4" fill="none"/>
<text x="277.90" y="170.00" font-size="2.9" fill="#111" font-weight="bold" textLength="6.2" lengthAdjust="spacingAndGlyphs">0.500</text>
<text x="277.90" y="174.00" font-size="2.9" fill="#111" font-weight="bold" textLength="6.2" lengthAdjust="spacingAndGlyphs">0.450</text>
<text x="277.90" y="178.00" font-size="2.9" fill="#111" font-weight="bold" textLength="6.2" lengthAdjust="spacingAndGlyphs">0.400</text>
<text x="277.90" y="182.00" font-size="2.9" fill="#111" font-weight="bold" textLength="6.2" lengthAdjust="spacingAndGlyphs">0.350</text>
<text x="277.90" y="186.00" font-size="2.9" fill="#111" font-weight="bold" textLength="6.2" lengthAdjust="spacingAndGlyphs">0.300</text>
<text x="277.90" y="190.00" font-size="2.9" fill="#111" font-weight="bold" textLength="6.2" lengthAdjust="spacingAndGlyphs">0.250</text>
<text x="277.90" y="194.00" font-size="2.9" fill="#111" font-weight="bold" textLength="6.2" lengthAdjust="spacingAndGlyphs">0.200</text>
<text x="277.90" y="198.00" font-size="2.9" fill="#111" font-weight="bold" textLength="6.2" lengthAdjust="spacingAndGlyphs">0.150</text>
<text x="277.90" y="202.00" font-size="2.9" fill="#111" font-weight="bold" textLength="6.2" lengthAdjust="spacingAndGlyphs">0.100</text>
<text x="277.90" y="206.00" font-size="2.9" fill="#111" font-weight="bold" textLength="6.2" lengthAdjust="spacingAndGlyphs">0.050</text>
<text x="277.90" y="210.00" font-size="2.9" fill="#111" font-weight="bold" textLength="6.2" lengthAdjust="spacingAndGlyphs">0.000</text>
<text x="280.50" y="233.80" font-size="2.9" fill="#1a1a1a" font-weight="bold" textLength="3.6" lengthAdjust="spacingAndGlyphs">1.50</text>
<text x="280.50" y="238.02" font-size="2.9" fill="#1a1a1a" font-weight="bold" textLength="3.6" lengthAdjust="spacingAndGlyphs">1.25</text>
<text x="280.50" y="242.24" font-size="2.9" fill="#1a1a1a" font-weight="bold" textLength="3.6" lengthAdjust="spacingAndGlyphs">1.00</text>
<text x="280.50" y="246.46" font-size="2.9" fill="#1a1a1a" font-weight="bold" textLength="3.6" lengthAdjust="spacingAndGlyphs">0.75</text>
<text x="280.50" y="250.68" font-size="2.9" fill="#1a1a1a" font-weight="bold" textLength="3.6" lengthAdjust="spacingAndGlyphs">0.50</text>
<text x="280.50" y="254.90" font-size="2.9" fill="#1a1a1a" font-weight="bold" textLength="3.6" lengthAdjust="spacingAndGlyphs">0.25</text>
<text x="280.50" y="259.12" font-size="2.9" fill="#1a1a1a" font-weight="bold" textLength="3.6" lengthAdjust="spacingAndGlyphs">0.00</text>
<text transform="translate(275.50,203.70) rotate(-90)" font-size="2.9" fill="#1a1a1a" font-weight="bold" textLength="29" lengthAdjust="spacingAndGlyphs">Enrichment score (ES)</text>
<text transform="translate(278.10,268.90) rotate(-90)" font-size="2.9" fill="#1a1a1a" font-weight="bold" textLength="46" lengthAdjust="spacingAndGlyphs">Ranked list metric (Ratio_of_Classes)</text>
<text x="285.00" y="263.30" font-size="2.9" fill="#1a1a1a" font-weight="bold" textLength="1.2" lengthAdjust="spacingAndGlyphs">0</text>
<text x="294.33" y="263.30" font-size="2.9" fill="#1a1a1a" font-weight="bold" textLength="5.2" lengthAdjust="spacingAndGlyphs">2,500</text>
<text x="305.66" y="263.30" font-size="2.9" fill="#1a1a1a" font-weight="bold" textLength="5.2" lengthAdjust="spacingAndGlyphs">5,000</text>
<text x="316.99" y="263.30" font-size="2.9" fill="#1a1a1a" font-weight="bold" textLength="5.2" lengthAdjust="spacingAndGlyphs">7,500</text>
<text x="327.82" y="263.30" font-size="2.9" fill="#1a1a1a" font-weight="bold" textLength="6.2" lengthAdjust="spacingAndGlyphs">10,000</text>
<text x="339.15" y="263.30" font-size="2.9" fill="#1a1a1a" font-weight="bold" textLength="6.2" lengthAdjust="spacingAndGlyphs">12,500</text>
<text x="350.48" y="263.30" font-size="2.9" fill="#1a1a1a" font-weight="bold" textLength="6.2" lengthAdjust="spacingAndGlyphs">15,000</text>
<text x="361.80" y="263.30" font-size="2.9" fill="#1a1a1a" font-weight="bold" textLength="6.2" lengthAdjust="spacingAndGlyphs">17,500</text>
<text x="373.13" y="263.30" font-size="2.9" fill="#1a1a1a" font-weight="bold" textLength="6.2" lengthAdjust="spacingAndGlyphs">20,000</text>
<text x="319.55" y="266.90" font-size="2.9" fill="#1a1a1a" font-weight="bold" textLength="28" lengthAdjust="spacingAndGlyphs">Rank in Ordered Dataset</text>
<rect x="288.10" y="269.50" width="78.90" height="4.4" fill="#f4f4f4" stroke="#8c8c8c" stroke-width="0.4"/>
<text x="292.10" y="272.60" font-size="2.6" fill="#444" textLength="43.39" lengthAdjust="spacingAndGlyphs">— Enrichment profile — Hits</text>
<text x="341.75" y="272.60" font-size="2.6" fill="#444" textLength="22.88" lengthAdjust="spacingAndGlyphs">Ranking metric scores</text>
</g>
<g filter="url(#bl)">
<rect x="404.10" y="160.90" width="114.50" height="113.80" fill="#e3e3e3" stroke="#cdcdcd" stroke-width="0.6"/>
<rect x="420.0" y="167.90" width="97.20" height="92.20" fill="#fff"/>
<path d="M420.0 171.74H517.2 M420.0 175.58H517.2 M420.0 179.42H517.2 M420.0 183.26H517.2 M420.0 187.10H517.2 M420.0 190.94H517.2 M420.0 194.78H517.2 M420.0 198.62H517.2 M420.0 202.46H517.2 M420.0 206.30H517.2 M431.10 167.90V211.30 M442.19 167.90V211.30 M453.29 167.90V211.30 M464.38 167.90V211.30 M475.48 167.90V211.30 M486.57 167.90V211.30 M497.67 167.90V211.30 M508.76 167.90V211.30" stroke="#ececec" stroke-width="0.4" fill="none"/>
<path d="M420.0 211.90H517.2" stroke="#cfcfcf" stroke-width="0.8"/>
<path d="M420.0 204.90H517.2" stroke="#b5b5b5" stroke-width="0.5"/>
<text x="418" y="165.80" font-size="4.4" font-weight="bold" stroke="#000" stroke-width="0.3" textLength="88.00" lengthAdjust="spacingAndGlyphs">Enrichment plot: REACTOME_HEMOSTASIS</text>
<path d="M420.08 209.80 L420.12 208.75 L420.16 207.71 L420.20 206.66 L420.24 205.62 L420.28 204.58 L420.33 203.53 L420.41 202.49 L420.49 201.44 L420.58 200.40 L420.66 199.35 L420.74 198.31 L420.83 197.27 L421.02 196.33 L421.20 195.39 L421.39 194.45 L421.58 193.51 L422.08 192.25 L422.58 191.00 L422.89 190.12 L423.21 189.01 L423.52 188.41 L423.83 187.37 L424.25 186.67 L424.67 185.77 L425.09 184.34 L425.71 183.17 L426.34 182.78 L426.97 181.26 L427.59 180.23 L428.60 180.29 L429.60 179.19 L430.48 179.15 L431.35 178.45 L432.23 177.97 L433.11 176.90 L433.86 176.71 L434.61 176.29 L435.11 175.15 L435.61 174.51 L436.12 173.61 L436.87 172.06 L437.62 171.68 L438.62 171.16 L439.62 170.52 L441.38 170.03 L442.63 171.78 L443.26 172.18 L443.88 173.15 L444.51 174.05 L445.14 174.65 L446.39 175.84 L447.23 175.78 L448.06 176.57 L448.90 176.66 L449.73 177.52 L450.57 177.89 L451.40 177.61 L452.24 178.14 L453.07 178.72 L453.91 179.89 L454.75 179.92 L455.58 180.59 L456.42 180.80 L457.00 181.82 L457.59 182.54 L458.17 183.35 L458.84 184.39 L459.51 185.23 L460.18 186.35 L460.84 186.82 L461.51 187.71 L462.18 188.31 L463.06 189.31 L463.93 189.90 L464.81 189.82 L465.69 190.82 L466.69 191.17 L467.69 191.36 L468.70 191.06 L469.70 191.19 L470.58 190.49 L471.45 190.80 L472.33 191.32 L473.21 191.81 L474.21 192.36 L475.21 193.83 L476.22 194.20 L477.22 193.64 L478.10 194.65 L478.97 194.68 L479.85 194.82 L480.73 195.33 L481.73 196.00 L482.73 196.35 L483.73 195.10 L484.74 195.11 L485.61 194.85 L486.49 195.71 L487.08 196.36 L487.66 197.86 L488.25 198.95 L488.91 199.36 L489.58 200.64 L490.25 200.85 L490.92 201.31 L491.59 202.45 L492.26 202.61 L493.13 203.64 L494.01 204.70 L494.89 205.26 L495.76 205.23 L496.77 205.63 L497.77 206.87 L498.77 206.37 L499.77 206.95 L500.65 207.65 L501.53 207.93 L502.41 208.63 L503.28 209.31 L504.29 210.05 L505.29 210.64 L506.79 210.10 L507.54 209.65 L508.30 209.44 L508.80 208.30 L509.30 207.48 L510.30 206.74 L511.30 207.31 L512.31 207.11" fill="none" stroke="#8a8a8a" stroke-width="1.35" stroke-linejoin="round"/>
<rect x="420.58" y="212.60" width="3.17" height="14.40" fill="#0a0a0a"/>
<rect x="424.39" y="212.60" width="2.54" height="14.40" fill="#333333"/>
<rect x="427.77" y="212.60" width="1.69" height="14.40" fill="#333333"/>
<rect x="430.31" y="212.60" width="1.69" height="14.40" fill="#333333"/>
<rect x="432.85" y="212.60" width="2.12" height="14.40" fill="#333333"/>
<rect x="435.81" y="212.60" width="1.69" height="14.40" fill="#7c7c7c"/>
<rect x="438.35" y="212.60" width="1.27" height="14.40" fill="#333333"/>
<rect x="440.46" y="212.60" width="1.69" height="14.40" fill="#333333"/>
<rect x="445.54" y="212.60" width="1.69" height="14.40" fill="#333333"/>
<rect x="448.08" y="212.60" width="1.27" height="14.40" fill="#7c7c7c"/>
<rect x="450.19" y="212.60" width="1.27" height="14.40" fill="#333333"/>
<rect x="452.31" y="212.60" width="1.27" height="14.40" fill="#333333"/>
<rect x="456.54" y="212.60" width="1.27" height="14.40" fill="#7c7c7c"/>
<rect x="458.66" y="212.60" width="1.27" height="14.40" fill="#333333"/>
<rect x="460.77" y="212.60" width="1.27" height="14.40" fill="#0a0a0a"/>
<rect x="462.89" y="212.60" width="1.27" height="14.40" fill="#333333"/>
<rect x="466.27" y="212.60" width="1.27" height="14.40" fill="#333333"/>
<rect x="468.39" y="212.60" width="1.27" height="14.40" fill="#333333"/>
<rect x="470.50" y="212.60" width="1.27" height="14.40" fill="#333333"/>
<rect x="474.10" y="212.60" width="1.48" height="14.40" fill="#333333"/>
<rect x="476.43" y="212.60" width="1.27" height="14.40" fill="#333333"/>
<rect x="478.54" y="212.60" width="1.27" height="14.40" fill="#333333"/>
<rect x="480.66" y="212.60" width="1.27" height="14.40" fill="#333333"/>
<rect x="482.77" y="212.60" width="1.69" height="14.40" fill="#333333"/>
<rect x="485.31" y="212.60" width="1.27" height="14.40" fill="#7c7c7c"/>
<rect x="490.39" y="212.60" width="1.27" height="14.40" fill="#7c7c7c"/>
<rect x="494.20" y="212.60" width="2.54" height="14.40" fill="#333333"/>
<rect x="497.58" y="212.60" width="2.54" height="14.40" fill="#333333"/>
<rect x="500.97" y="212.60" width="2.12" height="14.40" fill="#333333"/>
<rect x="503.93" y="212.60" width="2.54" height="14.40" fill="#0a0a0a"/>
<rect x="507.31" y="212.60" width="2.54" height="14.40" fill="#0a0a0a"/>
<rect x="510.70" y="212.60" width="2.54" height="14.40" fill="#333333"/>
<rect x="420.0" y="227.00" width="93.20" height="3.30" fill="url(#gb)"/>
<path d="M420.0 230.30H517.2" stroke="#aaa" stroke-width="0.5"/>
<text x="421.0" y="232.90" font-size="2.6" fill="#555" textLength="34" lengthAdjust="spacingAndGlyphs">'na_pos' (positively correlated)</text>
<path d="M420.0 260.10V241.70C422.0 242.20 428.0 242.40 466.60 242.90L499.22 243.60L513.20 244.50V260.10Z" fill="#ababab"/>
<text x="468.46" y="245.10" font-size="2.6" fill="#333" textLength="33.55" lengthAdjust="spacingAndGlyphs">Zero cross at 16920</text>
<text x="502.02" y="246.10" font-size="2.6" fill="#222" font-weight="bold" textLength="14.91" lengthAdjust="spacingAndGlyphs">'na_neg'</text>
<path d="M420.0 167.90V260.10H517.2" stroke="#9a9a9a" stroke-width="0.4" fill="none"/>
<text x="412.80" y="170.20" font-size="2.9" fill="#111" font-weight="bold" textLength="6.2" lengthAdjust="spacingAndGlyphs">0.500</text>
<text x="412.80" y="174.20" font-size="2.9" fill="#111" font-weight="bold" textLength="6.2" lengthAdjust="spacingAndGlyphs">0.450</text>
<text x="412.80" y="178.20" font-size="2.9" fill="#111" font-weight="bold" textLength="6.2" lengthAdjust="spacingAndGlyphs">0.400</text>
<text x="412.80" y="182.20" font-size="2.9" fill="#111" font-weight="bold" textLength="6.2" lengthAdjust="spacingAndGlyphs">0.350</text>
<text x="412.80" y="186.20" font-size="2.9" fill="#111" font-weight="bold" textLength="6.2" lengthAdjust="spacingAndGlyphs">0.300</text>
<text x="412.80" y="190.20" font-size="2.9" fill="#111" font-weight="bold" textLength="6.2" lengthAdjust="spacingAndGlyphs">0.250</text>
<text x="412.80" y="194.20" font-size="2.9" fill="#111" font-weight="bold" textLength="6.2" lengthAdjust="spacingAndGlyphs">0.200</text>
<text x="412.80" y="198.20" font-size="2.9" fill="#111" font-weight="bold" textLength="6.2" lengthAdjust="spacingAndGlyphs">0.150</text>
<text x="412.80" y="202.20" font-size="2.9" fill="#111" font-weight="bold" textLength="6.2" lengthAdjust="spacingAndGlyphs">0.100</text>
<text x="412.80" y="206.20" font-size="2.9" fill="#111" font-weight="bold" textLength="6.2" lengthAdjust="spacingAndGlyphs">0.050</text>
<text x="412.80" y="210.20" font-size="2.9" fill="#111" font-weight="bold" textLength="6.2" lengthAdjust="spacingAndGlyphs">0.000</text>
<text x="415.40" y="234.00" font-size="2.9" fill="#1a1a1a" font-weight="bold" textLength="3.6" lengthAdjust="spacingAndGlyphs">1.50</text>
<text x="415.40" y="238.22" font-size="2.9" fill="#1a1a1a" font-weight="bold" textLength="3.6" lengthAdjust="spacingAndGlyphs">1.25</text>
<text x="415.40" y="242.44" font-size="2.9" fill="#1a1a1a" font-weight="bold" textLength="3.6" lengthAdjust="spacingAndGlyphs">1.00</text>
<text x="415.40" y="246.66" font-size="2.9" fill="#1a1a1a" font-weight="bold" textLength="3.6" lengthAdjust="spacingAndGlyphs">0.75</text>
<text x="415.40" y="250.88" font-size="2.9" fill="#1a1a1a" font-weight="bold" textLength="3.6" lengthAdjust="spacingAndGlyphs">0.50</text>
<text x="415.40" y="255.10" font-size="2.9" fill="#1a1a1a" font-weight="bold" textLength="3.6" lengthAdjust="spacingAndGlyphs">0.25</text>
<text x="415.40" y="259.32" font-size="2.9" fill="#1a1a1a" font-weight="bold" textLength="3.6" lengthAdjust="spacingAndGlyphs">0.00</text>
<text transform="translate(410.40,203.90) rotate(-90)" font-size="2.9" fill="#1a1a1a" font-weight="bold" textLength="29" lengthAdjust="spacingAndGlyphs">Enrichment score (ES)</text>
<text transform="translate(413.00,269.10) rotate(-90)" font-size="2.9" fill="#1a1a1a" font-weight="bold" textLength="46" lengthAdjust="spacingAndGlyphs">Ranked list metric (Ratio_of_Classes)</text>
<text x="419.90" y="263.50" font-size="2.9" fill="#1a1a1a" font-weight="bold" textLength="1.2" lengthAdjust="spacingAndGlyphs">0</text>
<text x="429.27" y="263.50" font-size="2.9" fill="#1a1a1a" font-weight="bold" textLength="5.2" lengthAdjust="spacingAndGlyphs">2,500</text>
<text x="440.63" y="263.50" font-size="2.9" fill="#1a1a1a" font-weight="bold" textLength="5.2" lengthAdjust="spacingAndGlyphs">5,000</text>
<text x="452.00" y="263.50" font-size="2.9" fill="#1a1a1a" font-weight="bold" textLength="5.2" lengthAdjust="spacingAndGlyphs">7,500</text>
<text x="462.86" y="263.50" font-size="2.9" fill="#1a1a1a" font-weight="bold" textLength="6.2" lengthAdjust="spacingAndGlyphs">10,000</text>
<text x="474.23" y="263.50" font-size="2.9" fill="#1a1a1a" font-weight="bold" textLength="6.2" lengthAdjust="spacingAndGlyphs">12,500</text>
<text x="485.60" y="263.50" font-size="2.9" fill="#1a1a1a" font-weight="bold" textLength="6.2" lengthAdjust="spacingAndGlyphs">15,000</text>
<text x="496.96" y="263.50" font-size="2.9" fill="#1a1a1a" font-weight="bold" textLength="6.2" lengthAdjust="spacingAndGlyphs">17,500</text>
<text x="508.33" y="263.50" font-size="2.9" fill="#1a1a1a" font-weight="bold" textLength="6.2" lengthAdjust="spacingAndGlyphs">20,000</text>
<text x="454.60" y="267.10" font-size="2.9" fill="#1a1a1a" font-weight="bold" textLength="28" lengthAdjust="spacingAndGlyphs">Rank in Ordered Dataset</text>
<rect x="423.00" y="269.70" width="79.20" height="4.4" fill="#f4f4f4" stroke="#8c8c8c" stroke-width="0.4"/>
<text x="427.00" y="272.80" font-size="2.6" fill="#444" textLength="43.56" lengthAdjust="spacingAndGlyphs">— Enrichment profile — Hits</text>
<text x="476.86" y="272.80" font-size="2.6" fill="#444" textLength="22.97" lengthAdjust="spacingAndGlyphs">Ranking metric scores</text>
</g>
<text x="14.30" y="290.90" font-size="13" font-weight="bold" font-style="normal" fill="#000" stroke="#000" stroke-width="0.3" textLength="54.10" lengthAdjust="spacingAndGlyphs">NES = 1.92</text>
<text x="14.30" y="306.40" font-size="13" font-weight="bold" font-style="normal" fill="#000" stroke="#000" stroke-width="0.3" textLength="89.70" lengthAdjust="spacingAndGlyphs">Nominal p = 0.025</text>
<text x="148.50" y="290.90" font-size="13" font-weight="bold" font-style="normal" fill="#000" stroke="#000" stroke-width="0.3" textLength="53.80" lengthAdjust="spacingAndGlyphs">NES = 1.86</text>
<text x="148.50" y="306.40" font-size="13" font-weight="bold" font-style="normal" fill="#000" stroke="#000" stroke-width="0.3" textLength="90.30" lengthAdjust="spacingAndGlyphs">Nominal p = 0.025</text>
<text x="282.50" y="290.90" font-size="13" font-weight="bold" font-style="normal" fill="#000" stroke="#000" stroke-width="0.3" textLength="53.80" lengthAdjust="spacingAndGlyphs">NES = 1.78</text>
<text x="282.50" y="306.40" font-size="13" font-weight="bold" font-style="normal" fill="#000" stroke="#000" stroke-width="0.3" textLength="89.50" lengthAdjust="spacingAndGlyphs">Nominal p = 0.044</text>
<text x="419.00" y="290.90" font-size="13" font-weight="bold" font-style="normal" fill="#000" stroke="#000" stroke-width="0.3" textLength="53.90" lengthAdjust="spacingAndGlyphs">NES = 1.69</text>
<text x="419.00" y="306.40" font-size="13" font-weight="bold" font-style="normal" fill="#000" stroke="#000" stroke-width="0.3" textLength="90.00" lengthAdjust="spacingAndGlyphs">Nominal p = 0.047</text>
<path d="M37.80 353.00H247.5 M37.80 370.90H247.5 M37.80 388.80H247.5 M37.80 406.70H247.5 M37.80 424.60H247.5 M37.80 442.50H247.5 M37.80 460.40H247.5 M37.80 478.30H247.5" stroke="#b4b4b4" stroke-width="1.25" fill="none"/>
<path d="M41.3 352.5V478.8" stroke="#8c8c8c" stroke-width="0.9" fill="none"/>
<text x="22.20" y="356.25" font-size="9.8" font-weight="bold" font-style="normal" fill="#000" stroke="#000" stroke-width="0.3" textLength="8.70" lengthAdjust="spacingAndGlyphs">14</text>
<text x="22.20" y="374.15" font-size="9.8" font-weight="bold" font-style="normal" fill="#000" stroke="#000" stroke-width="0.3" textLength="8.70" lengthAdjust="spacingAndGlyphs">12</text>
<text x="22.20" y="392.05" font-size="9.8" font-weight="bold" font-style="normal" fill="#000" stroke="#000" stroke-width="0.3" textLength="8.70" lengthAdjust="spacingAndGlyphs">10</text>
<text x="26.50" y="409.95" font-size="9.8" font-weight="bold" font-style="normal" fill="#000" stroke="#000" stroke-width="0.3" textLength="4.40" lengthAdjust="spacingAndGlyphs">8</text>
<text x="26.50" y="427.85" font-size="9.8" font-weight="bold" font-style="normal" fill="#000" stroke="#000" stroke-width="0.3" textLength="4.40" lengthAdjust="spacingAndGlyphs">6</text>
<text x="26.50" y="445.75" font-size="9.8" font-weight="bold" font-style="normal" fill="#000" stroke="#000" stroke-width="0.3" textLength="4.40" lengthAdjust="spacingAndGlyphs">4</text>
<text x="26.50" y="463.65" font-size="9.8" font-weight="bold" font-style="normal" fill="#000" stroke="#000" stroke-width="0.3" textLength="4.40" lengthAdjust="spacingAndGlyphs">2</text>
<text x="26.50" y="481.55" font-size="9.8" font-weight="bold" font-style="normal" fill="#000" stroke="#000" stroke-width="0.3" textLength="4.40" lengthAdjust="spacingAndGlyphs">0</text>
<text transform="translate(12.30,478.00) rotate(-90)" x="0" y="0" font-size="12.2" font-weight="bold" stroke="#000" stroke-width="0.3" textLength="38.90" lengthAdjust="spacingAndGlyphs"><tspan font-style="italic">ITGA2B</tspan></text>
<text transform="translate(12.30,437.80) rotate(-90)" x="0" y="0" font-size="12.2" font-weight="bold" stroke="#000" stroke-width="0.3" textLength="85.20" lengthAdjust="spacingAndGlyphs">expression (log)</text>
<circle cx="70.75" cy="388.67" r="1.45" fill="#000"/>
<circle cx="70.75" cy="391.93" r="1.45" fill="#000"/>
<circle cx="70.75" cy="409.47" r="1.45" fill="#000"/>
<rect x="67.30" y="394.34" width="7.20" height="1.7" fill="#000"/>
<circle cx="100.20" cy="370.63" r="1.45" fill="#000"/>
<circle cx="100.20" cy="379.40" r="1.45" fill="#000"/>
<circle cx="100.20" cy="383.16" r="1.45" fill="#000"/>
<circle cx="100.20" cy="385.16" r="1.45" fill="#000"/>
<circle cx="100.20" cy="386.92" r="1.45" fill="#000"/>
<circle cx="100.20" cy="388.67" r="1.45" fill="#000"/>
<circle cx="100.20" cy="395.19" r="1.45" fill="#000"/>
<circle cx="100.20" cy="404.46" r="1.45" fill="#000"/>
<circle cx="100.20" cy="406.21" r="1.45" fill="#000"/>
<circle cx="100.20" cy="408.22" r="1.45" fill="#000"/>
<circle cx="100.20" cy="410.22" r="1.45" fill="#000"/>
<circle cx="100.20" cy="411.98" r="1.45" fill="#000"/>
<circle cx="100.20" cy="416.99" r="1.45" fill="#000"/>
<circle cx="100.20" cy="418.75" r="1.45" fill="#000"/>
<circle cx="100.20" cy="420.25" r="1.45" fill="#000"/>
<rect x="96.60" y="397.85" width="7.20" height="1.7" fill="#000"/>
<circle cx="129.50" cy="398.19" r="1.45" fill="#000"/>
<circle cx="129.50" cy="404.46" r="1.45" fill="#000"/>
<circle cx="129.50" cy="406.21" r="1.45" fill="#000"/>
<circle cx="129.50" cy="409.47" r="1.45" fill="#000"/>
<rect x="126.00" y="404.36" width="7.20" height="1.7" fill="#000"/>
<circle cx="159.30" cy="383.66" r="1.45" fill="#000"/>
<circle cx="159.30" cy="395.69" r="1.45" fill="#000"/>
<circle cx="159.30" cy="397.19" r="1.45" fill="#000"/>
<circle cx="159.30" cy="398.70" r="1.45" fill="#000"/>
<circle cx="159.30" cy="400.20" r="1.45" fill="#000"/>
<circle cx="159.30" cy="401.95" r="1.45" fill="#000"/>
<circle cx="159.30" cy="406.97" r="1.45" fill="#000"/>
<circle cx="159.30" cy="408.72" r="1.45" fill="#000"/>
<circle cx="159.30" cy="410.47" r="1.45" fill="#000"/>
<circle cx="159.30" cy="412.23" r="1.45" fill="#000"/>
<circle cx="159.30" cy="413.98" r="1.45" fill="#000"/>
<circle cx="159.30" cy="415.74" r="1.45" fill="#000"/>
<circle cx="159.30" cy="417.74" r="1.45" fill="#000"/>
<circle cx="159.30" cy="419.50" r="1.45" fill="#000"/>
<circle cx="159.30" cy="421.25" r="1.45" fill="#000"/>
<rect x="155.70" y="406.12" width="7.20" height="1.7" fill="#000"/>
<circle cx="188.80" cy="385.16" r="1.45" fill="#000"/>
<circle cx="188.80" cy="387.67" r="1.45" fill="#000"/>
<circle cx="188.80" cy="389.42" r="1.45" fill="#000"/>
<circle cx="188.80" cy="396.94" r="1.45" fill="#000"/>
<rect x="185.20" y="388.57" width="7.20" height="1.7" fill="#000"/>
<circle cx="218.00" cy="371.88" r="1.45" fill="#000"/>
<circle cx="218.00" cy="379.40" r="1.45" fill="#000"/>
<circle cx="218.00" cy="381.15" r="1.45" fill="#000"/>
<circle cx="218.00" cy="382.91" r="1.45" fill="#000"/>
<circle cx="218.00" cy="384.66" r="1.45" fill="#000"/>
<circle cx="218.00" cy="386.41" r="1.45" fill="#000"/>
<circle cx="218.00" cy="388.17" r="1.45" fill="#000"/>
<circle cx="218.00" cy="389.92" r="1.45" fill="#000"/>
<circle cx="218.00" cy="391.68" r="1.45" fill="#000"/>
<circle cx="218.00" cy="393.43" r="1.45" fill="#000"/>
<circle cx="218.00" cy="395.19" r="1.45" fill="#000"/>
<circle cx="218.00" cy="396.94" r="1.45" fill="#000"/>
<circle cx="218.00" cy="398.70" r="1.45" fill="#000"/>
<circle cx="218.00" cy="400.70" r="1.45" fill="#000"/>
<circle cx="218.00" cy="402.71" r="1.45" fill="#000"/>
<circle cx="218.00" cy="406.46" r="1.45" fill="#000"/>
<rect x="214.60" y="389.32" width="7.20" height="1.7" fill="#000"/>
<text x="80.00" y="349.20" font-size="9.4" font-weight="bold" font-style="normal" fill="#000" stroke="#000" stroke-width="0.3" textLength="11.30" lengthAdjust="spacingAndGlyphs">NS</text>
<text x="138.80" y="349.20" font-size="9.4" font-weight="bold" font-style="normal" fill="#000" stroke="#000" stroke-width="0.3" textLength="11.20" lengthAdjust="spacingAndGlyphs">NS</text>
<text x="197.50" y="349.20" font-size="9.4" font-weight="bold" font-style="normal" fill="#000" stroke="#000" stroke-width="0.3" textLength="11.80" lengthAdjust="spacingAndGlyphs">NS</text>
<text x="21.30" y="497.00" font-size="9.2" font-weight="bold" font-style="normal" fill="#000" stroke="#000" stroke-width="0.3" textLength="30.00" lengthAdjust="spacingAndGlyphs">3q abn.</text>
<text x="62.50" y="497.00" font-size="9.2" font-weight="bold" font-style="normal" fill="#000" stroke="#000" stroke-width="0.3" textLength="16.30" lengthAdjust="spacingAndGlyphs">Pos</text>
<text x="122.00" y="497.00" font-size="9.2" font-weight="bold" font-style="normal" fill="#000" stroke="#000" stroke-width="0.3" textLength="15.80" lengthAdjust="spacingAndGlyphs">Pos</text>
<text x="180.40" y="497.00" font-size="9.2" font-weight="bold" font-style="normal" fill="#000" stroke="#000" stroke-width="0.3" textLength="16.00" lengthAdjust="spacingAndGlyphs">Pos</text>
<text x="92.20" y="497.00" font-size="9.2" font-weight="bold" font-style="normal" fill="#000" stroke="#000" stroke-width="0.3" textLength="16.60" lengthAdjust="spacingAndGlyphs">Neg</text>
<text x="150.60" y="497.00" font-size="9.2" font-weight="bold" font-style="normal" fill="#000" stroke="#000" stroke-width="0.3" textLength="16.70" lengthAdjust="spacingAndGlyphs">Neg</text>
<text x="210.20" y="497.00" font-size="9.2" font-weight="bold" font-style="normal" fill="#000" stroke="#000" stroke-width="0.3" textLength="16.40" lengthAdjust="spacingAndGlyphs">Neg</text>
<path d="M60.4 502.9H110" stroke="#3c3c3c" stroke-width="1.1"/>
<path d="M120.6 502.9H170.4" stroke="#3c3c3c" stroke-width="1.1"/>
<path d="M178.8 502.9H228.1" stroke="#3c3c3c" stroke-width="1.1"/>
<text x="60.00" y="515.60" font-size="9.2" font-weight="bold" font-style="normal" fill="#000" stroke="#000" stroke-width="0.3" textLength="50.00" lengthAdjust="spacingAndGlyphs">206494_s_at</text>
<text x="118.50" y="515.60" font-size="9.2" font-weight="bold" font-style="normal" fill="#000" stroke="#000" stroke-width="0.3" textLength="51.50" lengthAdjust="spacingAndGlyphs">216956_s_at</text>
<text x="182.70" y="515.60" font-size="9.2" font-weight="bold" font-style="normal" fill="#000" stroke="#000" stroke-width="0.3" textLength="41.30" lengthAdjust="spacingAndGlyphs">206493_at</text>
<path d="M306.00 352.90H517.0 M306.00 377.93H517.0 M306.00 402.96H517.0 M306.00 427.99H517.0 M306.00 453.02H517.0 M306.00 478.05H517.0" stroke="#b4b4b4" stroke-width="1.25" fill="none"/>
<path d="M309.5 352.4V478.4" stroke="#8c8c8c" stroke-width="0.9" fill="none"/>
<text x="290.60" y="356.00" font-size="9.8" font-weight="bold" font-style="normal" fill="#000" stroke="#000" stroke-width="0.3" textLength="8.70" lengthAdjust="spacingAndGlyphs">10</text>
<text x="294.90" y="381.03" font-size="9.8" font-weight="bold" font-style="normal" fill="#000" stroke="#000" stroke-width="0.3" textLength="4.40" lengthAdjust="spacingAndGlyphs">8</text>
<text x="294.90" y="406.06" font-size="9.8" font-weight="bold" font-style="normal" fill="#000" stroke="#000" stroke-width="0.3" textLength="4.40" lengthAdjust="spacingAndGlyphs">6</text>
<text x="294.90" y="431.09" font-size="9.8" font-weight="bold" font-style="normal" fill="#000" stroke="#000" stroke-width="0.3" textLength="4.40" lengthAdjust="spacingAndGlyphs">4</text>
<text x="294.90" y="456.12" font-size="9.8" font-weight="bold" font-style="normal" fill="#000" stroke="#000" stroke-width="0.3" textLength="4.40" lengthAdjust="spacingAndGlyphs">2</text>
<text x="294.90" y="481.15" font-size="9.8" font-weight="bold" font-style="normal" fill="#000" stroke="#000" stroke-width="0.3" textLength="4.40" lengthAdjust="spacingAndGlyphs">0</text>
<text transform="translate(281.30,477.50) rotate(-90)" x="0" y="0" font-size="12.2" font-weight="bold" stroke="#000" stroke-width="0.3" textLength="38.90" lengthAdjust="spacingAndGlyphs"><tspan font-style="italic">ITGA2B</tspan></text>
<text transform="translate(281.30,437.30) rotate(-90)" x="0" y="0" font-size="12.2" font-weight="bold" stroke="#000" stroke-width="0.3" textLength="85.20" lengthAdjust="spacingAndGlyphs">expression (log)</text>
<circle cx="338.80" cy="371.70" r="1.45" fill="#000"/>
<circle cx="338.80" cy="382.00" r="1.45" fill="#000"/>
<rect x="335.40" y="376.15" width="7.20" height="1.7" fill="#000"/>
<circle cx="368.30" cy="377.60" r="1.45" fill="#000"/>
<circle cx="368.30" cy="383.60" r="1.45" fill="#000"/>
<circle cx="368.30" cy="385.20" r="1.45" fill="#000"/>
<circle cx="368.30" cy="393.50" r="1.45" fill="#000"/>
<circle cx="368.30" cy="395.40" r="1.45" fill="#000"/>
<circle cx="368.30" cy="399.70" r="1.45" fill="#000"/>
<rect x="364.90" y="388.85" width="7.20" height="1.7" fill="#000"/>
<circle cx="397.80" cy="383.40" r="1.45" fill="#000"/>
<circle cx="397.80" cy="387.20" r="1.45" fill="#000"/>
<rect x="394.30" y="384.45" width="7.20" height="1.7" fill="#000"/>
<circle cx="427.50" cy="383.80" r="1.45" fill="#000"/>
<circle cx="427.50" cy="388.10" r="1.45" fill="#000"/>
<circle cx="427.50" cy="390.40" r="1.45" fill="#000"/>
<circle cx="427.50" cy="394.40" r="1.45" fill="#000"/>
<circle cx="427.50" cy="396.90" r="1.45" fill="#000"/>
<rect x="424.10" y="391.15" width="7.20" height="1.7" fill="#000"/>
<circle cx="457.10" cy="356.80" r="1.45" fill="#000"/>
<circle cx="457.10" cy="365.20" r="1.45" fill="#000"/>
<rect x="453.70" y="360.15" width="7.20" height="1.7" fill="#000"/>
<circle cx="486.80" cy="360.00" r="1.45" fill="#000"/>
<circle cx="486.80" cy="367.30" r="1.45" fill="#000"/>
<circle cx="486.80" cy="369.60" r="1.45" fill="#000"/>
<circle cx="486.80" cy="372.50" r="1.45" fill="#000"/>
<rect x="483.30" y="368.35" width="7.20" height="1.7" fill="#000"/>
<text x="354.0" y="351.7" font-size="15.5" font-weight="bold" text-anchor="middle">*</text>
<text x="412.7" y="351.7" font-size="15.5" font-weight="bold" text-anchor="middle">*</text>
<text x="471.6" y="351.7" font-size="15.5" font-weight="bold" text-anchor="middle">*</text>
<text x="297.50" y="496.50" font-size="9.2" font-weight="bold" font-style="italic" fill="#000" stroke="#000" stroke-width="0.3" textLength="20.50" lengthAdjust="spacingAndGlyphs">EVI1</text>
<text x="330.80" y="496.50" font-size="9.2" font-weight="bold" font-style="normal" fill="#000" stroke="#000" stroke-width="0.3" textLength="16.00" lengthAdjust="spacingAndGlyphs">Pos</text>
<text x="390.20" y="496.50" font-size="9.2" font-weight="bold" font-style="normal" fill="#000" stroke="#000" stroke-width="0.3" textLength="15.60" lengthAdjust="spacingAndGlyphs">Pos</text>
<text x="449.50" y="496.50" font-size="9.2" font-weight="bold" font-style="normal" fill="#000" stroke="#000" stroke-width="0.3" textLength="15.50" lengthAdjust="spacingAndGlyphs">Pos</text>
<text x="360.00" y="496.50" font-size="9.2" font-weight="bold" font-style="normal" fill="#000" stroke="#000" stroke-width="0.3" textLength="16.80" lengthAdjust="spacingAndGlyphs">Neg</text>
<text x="419.50" y="496.50" font-size="9.2" font-weight="bold" font-style="normal" fill="#000" stroke="#000" stroke-width="0.3" textLength="16.60" lengthAdjust="spacingAndGlyphs">Neg</text>
<text x="479.10" y="496.50" font-size="9.2" font-weight="bold" font-style="normal" fill="#000" stroke="#000" stroke-width="0.3" textLength="16.70" lengthAdjust="spacingAndGlyphs">Neg</text>
<path d="M328 502.9H377.5" stroke="#3c3c3c" stroke-width="1.1"/>
<path d="M388.0 502.9H438.0" stroke="#3c3c3c" stroke-width="1.1"/>
<path d="M448.1 502.9H497.7" stroke="#3c3c3c" stroke-width="1.1"/>
<text x="327.00" y="515.80" font-size="9.2" font-weight="bold" font-style="normal" fill="#000" stroke="#000" stroke-width="0.3" textLength="50.50" lengthAdjust="spacingAndGlyphs">206494_s_at</text>
<text x="387.30" y="515.80" font-size="9.2" font-weight="bold" font-style="normal" fill="#000" stroke="#000" stroke-width="0.3" textLength="50.70" lengthAdjust="spacingAndGlyphs">216956_s_at</text>
<text x="452.20" y="515.80" font-size="9.2" font-weight="bold" font-style="normal" fill="#000" stroke="#000" stroke-width="0.3" textLength="40.90" lengthAdjust="spacingAndGlyphs">206493_at</text>
</g></svg></body></html>
